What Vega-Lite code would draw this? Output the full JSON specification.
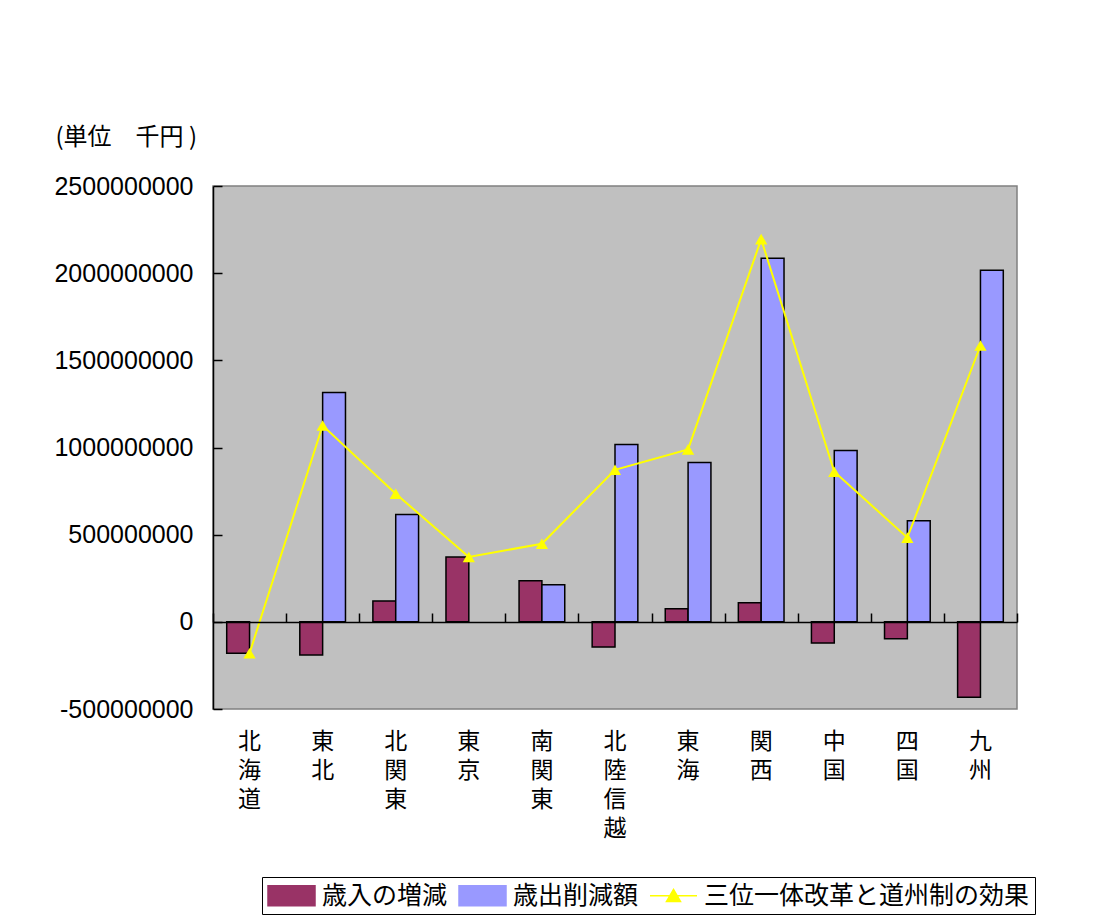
{
  "$schema": "https://vega.github.io/schema/vega-lite/v6.json",
  "autosize": "none",
  "width": 804,
  "height": 523,
  "padding": {"left": 213, "top": 186, "right": 95, "bottom": 207},
  "background": "white",
  "config": {
    "view": {"fill": "#C0C0C0", "stroke": "#808080", "strokeWidth": 1.5},
    "font": "Noto Sans CJK JP",
    "legend": {
      "title": null, "orient": "none", "direction": "horizontal", "legendX": 49, "legendY": 691,
      "labelFont": "Noto Sans CJK JP", "labelFontSize": 25, "labelColor": "black", "labelLimit": 0,
      "labelOffset": 28, "columnPadding": 8, "padding": 5,
      "strokeColor": "black", "fillColor": "white", "symbolSize": 625
    }
  },
  "datasets": {
    "bars": [
      {"region": "北海道", "series": "歳入の増減", "value": -180000000},
      {"region": "東北", "series": "歳入の増減", "value": -190000000},
      {"region": "東北", "series": "歳出削減額", "value": 1316000000},
      {"region": "北関東", "series": "歳入の増減", "value": 120000000},
      {"region": "北関東", "series": "歳出削減額", "value": 615000000},
      {"region": "東京", "series": "歳入の増減", "value": 372000000},
      {"region": "南関東", "series": "歳入の増減", "value": 236000000},
      {"region": "南関東", "series": "歳出削減額", "value": 212000000},
      {"region": "北陸信越", "series": "歳入の増減", "value": -145000000},
      {"region": "北陸信越", "series": "歳出削減額", "value": 1017000000},
      {"region": "東海", "series": "歳入の増減", "value": 75000000},
      {"region": "東海", "series": "歳出削減額", "value": 914000000},
      {"region": "関西", "series": "歳入の増減", "value": 109000000},
      {"region": "関西", "series": "歳出削減額", "value": 2086000000},
      {"region": "中国", "series": "歳入の増減", "value": -122000000},
      {"region": "中国", "series": "歳出削減額", "value": 983000000},
      {"region": "四国", "series": "歳入の増減", "value": -97000000},
      {"region": "四国", "series": "歳出削減額", "value": 580000000},
      {"region": "九州", "series": "歳入の増減", "value": -432000000},
      {"region": "九州", "series": "歳出削減額", "value": 2017000000}
    ],
    "total": [
      {"region": "北海道", "series": "三位一体改革と道州制の効果", "value": -180000000},
      {"region": "東北", "series": "三位一体改革と道州制の効果", "value": 1126000000},
      {"region": "北関東", "series": "三位一体改革と道州制の効果", "value": 735000000},
      {"region": "東京", "series": "三位一体改革と道州制の効果", "value": 372000000},
      {"region": "南関東", "series": "三位一体改革と道州制の効果", "value": 448000000},
      {"region": "北陸信越", "series": "三位一体改革と道州制の効果", "value": 872000000},
      {"region": "東海", "series": "三位一体改革と道州制の効果", "value": 989000000},
      {"region": "関西", "series": "三位一体改革と道州制の効果", "value": 2195000000},
      {"region": "中国", "series": "三位一体改革と道州制の効果", "value": 861000000},
      {"region": "四国", "series": "三位一体改革と道州制の効果", "value": 483000000},
      {"region": "九州", "series": "三位一体改革と道州制の効果", "value": 1585000000}
    ]
  },
  "layer": [
    {
      "data": {"name": "bars"},
      "mark": {"type": "bar", "stroke": "black", "strokeWidth": 1.5},
      "encoding": {
        "x": {
          "field": "region", "type": "nominal",
          "scale": {"domain": ["北海道", "東北", "北関東", "東京", "南関東", "北陸信越", "東海", "関西", "中国", "四国", "九州"], "paddingInner": 0, "paddingOuter": 0},
          "axis": {
            "title": null, "orient": "bottom", "domain": false, "ticks": false, "grid": false,
            "labelAngle": 0, "labelExpr": "split(datum.label, '')",
            "labelFont": "Noto Sans CJK JP", "labelFontSize": 23, "labelLineHeight": 29,
            "labelBaseline": "top", "labelPadding": 21, "labelColor": "black"
          }
        },
        "xOffset": {"field": "series", "type": "nominal", "scale": {"domain": ["歳入の増減", "歳出削減額"], "paddingInner": 0, "paddingOuter": 0.6}},
        "y": {
          "field": "value", "type": "quantitative",
          "scale": {"domain": [-500000000, 2500000000], "nice": false, "zero": false},
          "axis": {
            "title": "(単位　千円 )", "titleAngle": 0, "titleAlign": "left", "titleBaseline": "alphabetic",
            "titleX": -158, "titleY": -42, "titleFont": "Noto Sans CJK JP", "titleFontSize": 24,
            "titleFontWeight": "normal", "titleColor": "black",
            "values": [-500000000, 0, 500000000, 1000000000, 1500000000, 2000000000, 2500000000],
            "labelExpr": "datum.value + ''", "labelFont": "Liberation Sans", "labelFontSize": 25,
            "labelColor": "black", "labelPadding": 29,
            "tickSize": -9, "tickColor": "black", "tickWidth": 1.5,
            "domainColor": "black", "domainWidth": 1.5, "grid": false
          }
        },
        "color": {
          "field": "series", "type": "nominal",
          "scale": {"domain": ["歳入の増減", "歳出削減額", "三位一体改革と道州制の効果"], "range": ["#993366", "#9999FF", "#FFFF00"]},
          "legend": {
            "encode": {
              "symbols": {
                "update": {
                  "shape": {"signal": "datum.value === '三位一体改革と道州制の効果' ? 'M-1,0H2.76M0.88,-0.5L1.44,0.45L0.32,0.45Z' : 'M-1,-0.8H2.76V0.8H-1Z'"},
                  "fill": {"signal": "scale('color', datum.value)"},
                  "stroke": {"signal": "datum.value === '三位一体改革と道州制の効果' ? '#FFFF00' : 'black'"},
                  "strokeWidth": {"value": 1.5},
                  "opacity": {"value": 1},
                  "fillOpacity": {"value": 1}
                }
              }
            }
          }
        }
      }
    },
    {
      "data": {"name": "total"},
      "mark": {"type": "line", "strokeWidth": 2, "point": {"shape": "triangle-up", "filled": true, "size": 150}},
      "encoding": {
        "x": {
          "field": "region", "type": "nominal",
          "axis": {
            "title": null, "orient": "bottom", "labels": false, "grid": false,
            "domain": true, "domainColor": "black", "domainWidth": 1.5,
            "ticks": true, "tickBand": "extent", "tickSize": -9, "tickColor": "black", "tickWidth": 1.5,
            "offset": -87, "zindex": 1
          }
        },
        "y": {"field": "value", "type": "quantitative"},
        "color": {
          "field": "series", "type": "nominal",
          "legend": {
            "encode": {
              "symbols": {
                "update": {
                  "shape": {"signal": "datum.value === '三位一体改革と道州制の効果' ? 'M-1,0H2.76M0.88,-0.5L1.44,0.45L0.32,0.45Z' : 'M-1,-0.8H2.76V0.8H-1Z'"},
                  "fill": {"signal": "scale('color', datum.value)"},
                  "stroke": {"signal": "datum.value === '三位一体改革と道州制の効果' ? '#FFFF00' : 'black'"},
                  "strokeWidth": {"value": 1.5},
                  "opacity": {"value": 1},
                  "fillOpacity": {"value": 1}
                }
              }
            }
          }
        }
      }
    }
  ],
  "resolve": {"axis": {"x": "independent"}}
}
